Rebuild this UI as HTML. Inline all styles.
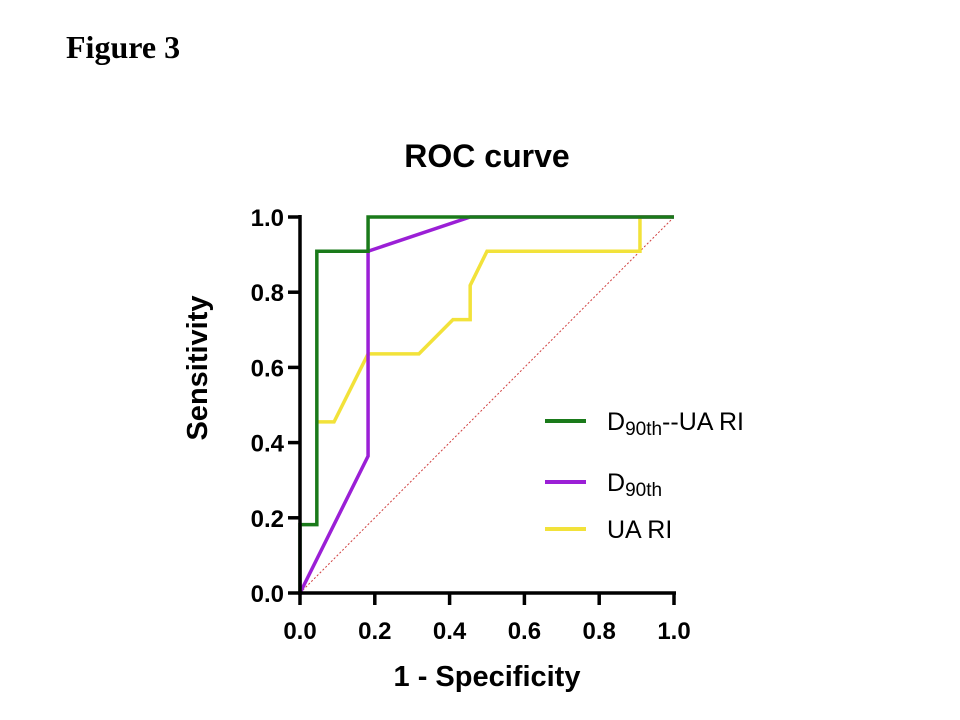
<!DOCTYPE html>
<html><head><meta charset="utf-8">
<style>
html,body{margin:0;padding:0;background:#fff;}
body{width:960px;height:720px;overflow:hidden;position:relative;font-family:"Liberation Sans",sans-serif;}
#fig{position:absolute;left:66px;top:29px;font-family:"Liberation Serif",serif;font-weight:bold;font-size:32px;}
svg{position:absolute;left:0;top:0;}
</style></head>
<body>
<div id="fig">Figure 3</div>
<svg id="chart" width="960" height="720"></svg>
<script>
const xTicks=[0.0,0.2,0.4,0.6,0.8,1.0];
const yTicks=[0.0,0.2,0.4,0.6,0.8,1.0];
const tickLabels=["0.0","0.2","0.4","0.6","0.8","1.0"];
const greenX=[0,0,0.045,0.045,0.182,0.182,1];
const greenY=[0,0.182,0.182,0.909,0.909,1,1];
const purpleX=[0,0.182,0.182,0.455,1];
const purpleY=[0,0.364,0.909,1,1];
const yellowX=[0.045,0.091,0.182,0.318,0.409,0.455,0.455,0.5,0.909,0.909,1];
const yellowY=[0.455,0.455,0.636,0.636,0.727,0.727,0.818,0.909,0.909,1,1];
const legendLabels=["D90th--UA RI","D90th","UA RI"];

const X0=300,X1=674,Y0=593,Y1=217;
const sx=v=>X0+(X1-X0)*v, sy=v=>Y0-(Y0-Y1)*v;
const svg=document.getElementById('chart');
const NS='http://www.w3.org/2000/svg';
function mk(t,a,txt){const e=document.createElementNS(NS,t);for(const k in a)e.setAttribute(k,a[k]);if(txt!==undefined)e.textContent=txt;svg.appendChild(e);return e;}

let e=mk('text',{x:487,y:167,'text-anchor':'middle','font-size':32,'font-weight':'bold','font-family':'Liberation Sans, sans-serif'},'ROC curve');



e=mk('line',{x1:sx(0),y1:sy(0),x2:sx(1),y2:sy(1),stroke:'#d04040','stroke-width':1,'stroke-dasharray':'2,2'});



function series(xs,ys,col,name){
  const pts=xs.map((x,i)=>sx(x)+','+sy(ys[i])).join(' ');
  const p=mk('polyline',{points:pts,fill:'none',stroke:col,'stroke-width':3.5,'stroke-linejoin':'miter'});
  
  
}
series(yellowX,yellowY,'#f2e23a','series-ua-ri');
series(purpleX,purpleY,'#9b1fd6','series-d90th');
series(greenX,greenY,'#1a7a1a','series-d90th-ua-ri');

e=mk('line',{x1:X0,y1:Y1-2,x2:X0,y2:Y0+2,stroke:'#000','stroke-width':3.5});


e=mk('line',{x1:X0-2,y1:Y0,x2:X1+2,y2:Y0,stroke:'#000','stroke-width':3.5});



xTicks.forEach((v,i)=>{
  let t=mk('line',{x1:sx(v),y1:Y0,x2:sx(v),y2:Y0+12,stroke:'#000','stroke-width':3.5});
  
  
  let l=mk('text',{x:sx(v),y:Y0+46,'text-anchor':'middle','font-size':24,'font-weight':'bold'},tickLabels[i]);
  
  
});
yTicks.forEach((v,i)=>{
  let t=mk('line',{x1:X0-12,y1:sy(v),x2:X0,y2:sy(v),stroke:'#000','stroke-width':3.5});
  
  
  let l=mk('text',{x:X0-16,y:sy(v)+9,'text-anchor':'end','font-size':24,'font-weight':'bold'},tickLabels[i]);
  
  
});

e=mk('text',{x:487,y:686,'text-anchor':'middle','font-size':29,'font-weight':'bold'},'1 - Specificity');


e=mk('text',{x:0,y:0,'text-anchor':'middle','font-size':29,'font-weight':'bold',transform:'translate(207,368) rotate(-90)'},'Sensitivity');



const legCols=['#1a7a1a','#9b1fd6','#f2e23a'];
const legY=[421,482,529];
legendLabels.forEach((lab,i)=>{
  let s=mk('line',{x1:545,y1:legY[i],x2:586,y2:legY[i],stroke:legCols[i],'stroke-width':4});
  
  
  let t=mk('text',{x:607,y:legY[i]+9,'font-size':25});
  
  
  if(lab.startsWith('D90th')){
    const a=document.createElementNS(NS,'tspan');a.textContent='D';t.appendChild(a);
    const b=document.createElementNS(NS,'tspan');b.setAttribute('font-size','19');b.setAttribute('dy','5');b.textContent='90th';t.appendChild(b);
    const rest=lab.slice(5);
    if(rest){const c=document.createElementNS(NS,'tspan');c.setAttribute('dy','-5');c.textContent=rest;t.appendChild(c);}
  } else t.textContent=lab;
});
</script>
</body></html>
